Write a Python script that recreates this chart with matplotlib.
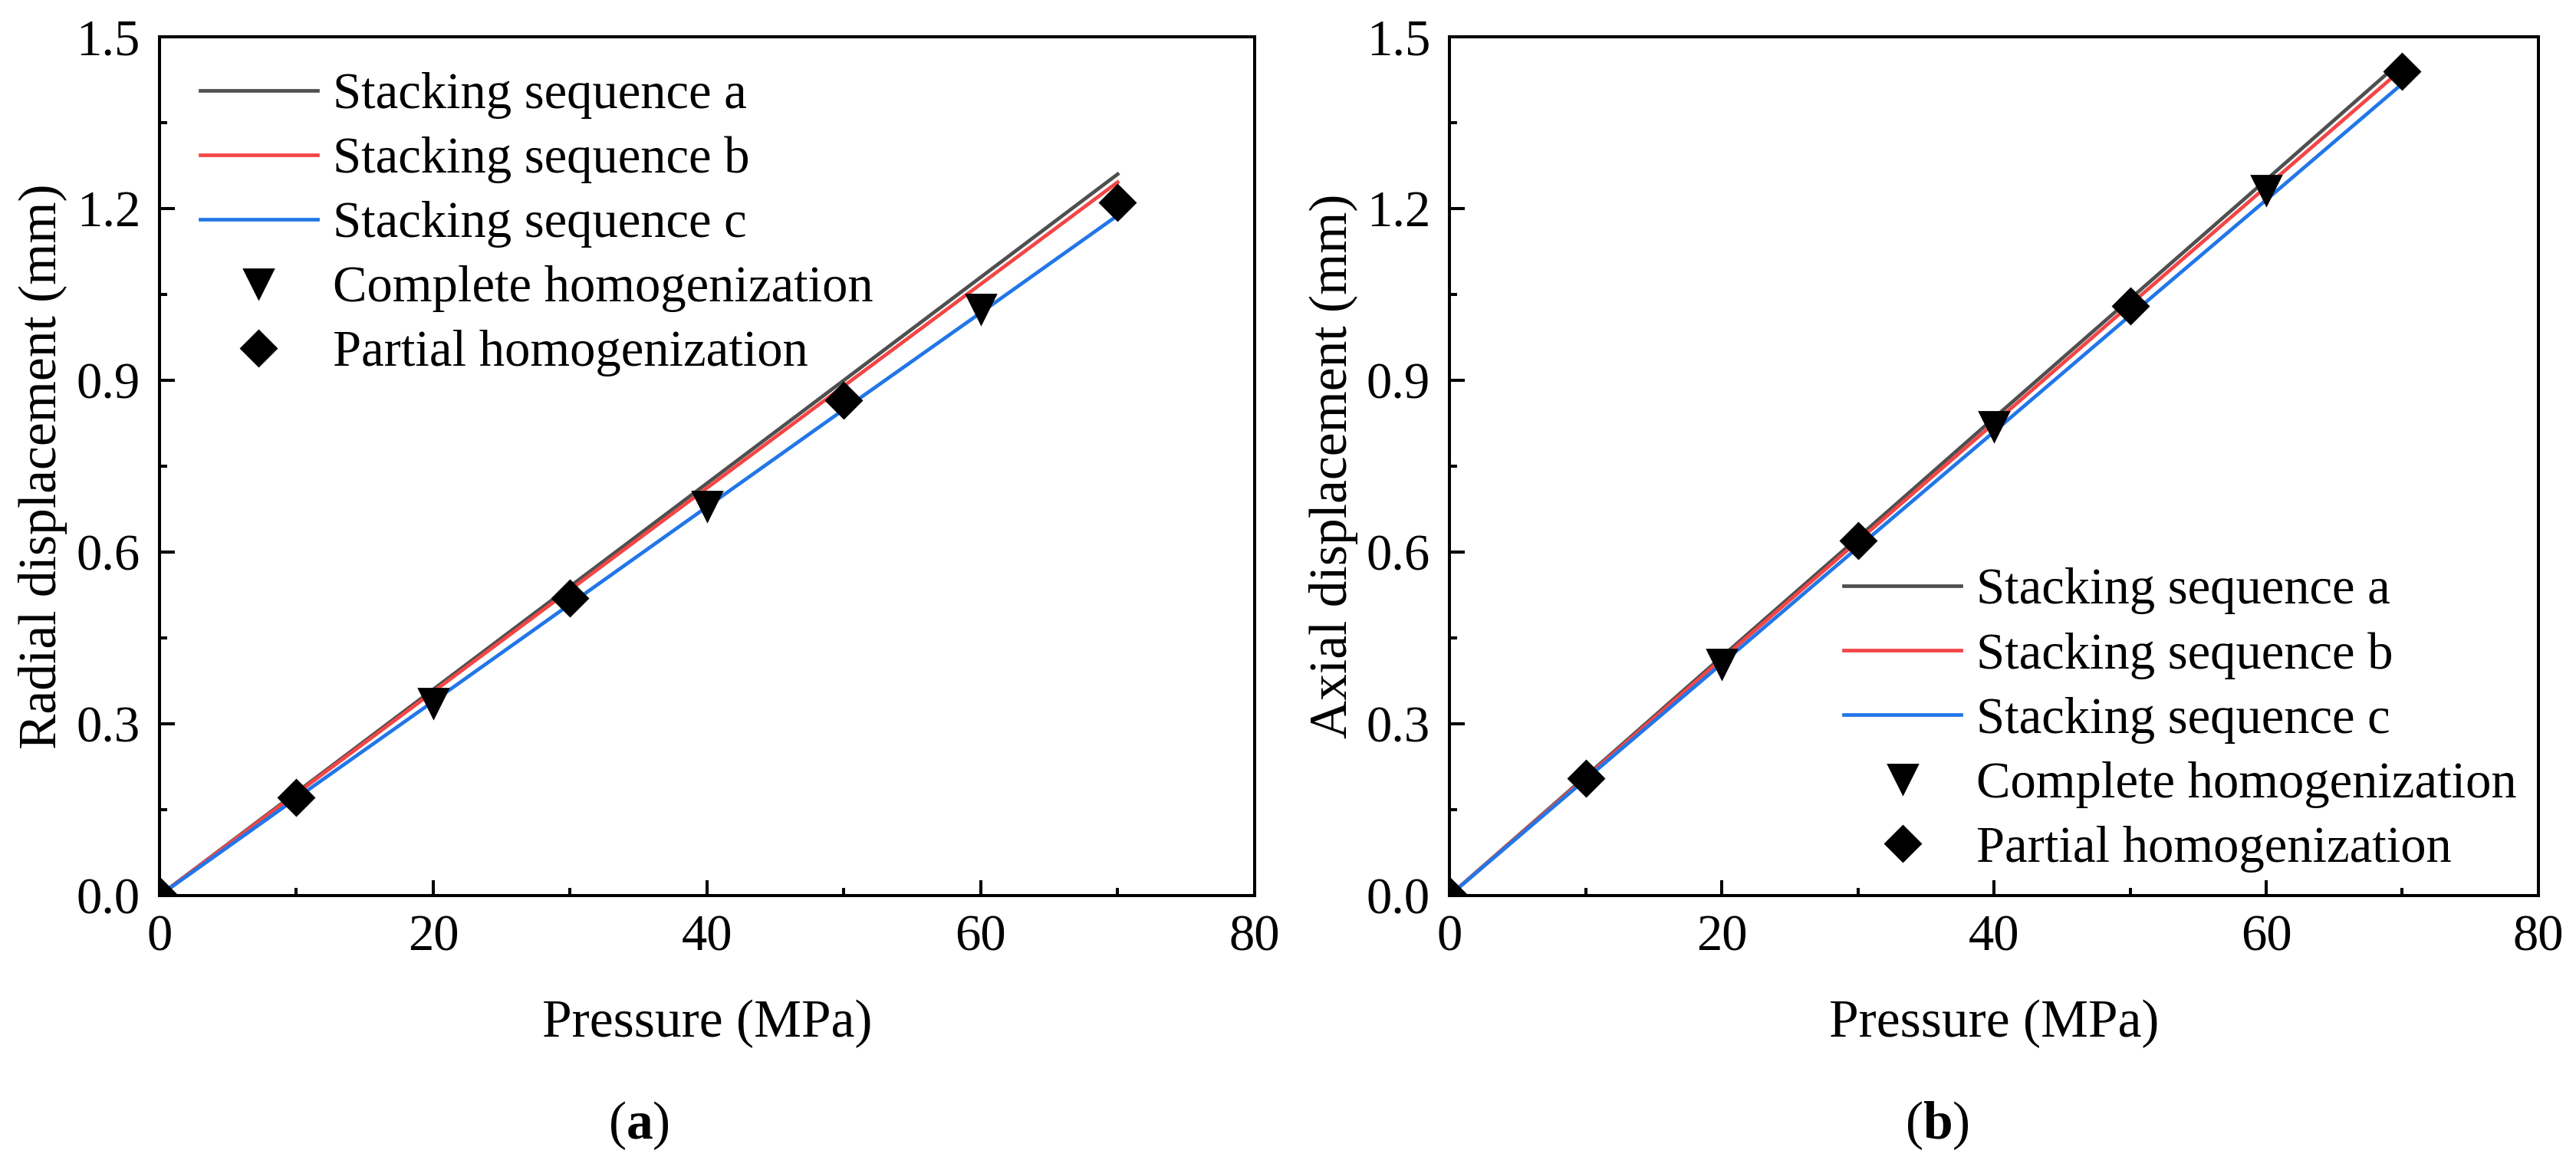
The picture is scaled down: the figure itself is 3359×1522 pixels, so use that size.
import matplotlib
matplotlib.use("Agg")
import matplotlib.pyplot as plt
from matplotlib.ticker import MultipleLocator

plt.rcParams['font.family'] = ['Liberation Serif', 'DejaVu Serif']
plt.rcParams['mathtext.fontset'] = 'custom'
plt.rcParams['mathtext.rm'] = 'Liberation Serif'
plt.rcParams['mathtext.bf'] = 'Liberation Serif:bold'

# pressure for the FE curves (MPa)
pressure = [0, 10, 20, 30, 40, 50, 60, 70]

# (a) radial displacement, mm
radial_a = [0, 0.180, 0.360, 0.540, 0.720, 0.900, 1.080, 1.260]
radial_b = [0, 0.178, 0.356, 0.534, 0.712, 0.890, 1.068, 1.246]
radial_c = [0, 0.170, 0.339, 0.509, 0.679, 0.849, 1.018, 1.188]

# (b) axial displacement, mm
axial_a = [0, 0.208, 0.417, 0.625, 0.834, 1.042, 1.250, 1.459]
axial_b = [0, 0.206, 0.413, 0.619, 0.825, 1.032, 1.238, 1.444]
axial_c = [0, 0.203, 0.405, 0.608, 0.810, 1.013, 1.215, 1.418]

# homogenization models
p_complete = [20, 40, 60]
p_partial = [0, 10, 30, 50, 70]
radial_complete = [0.336, 0.680, 1.025]
radial_partial = [0, 0.172, 0.520, 0.865, 1.210]
axial_complete = [0.405, 0.820, 1.232]
axial_partial = [0, 0.205, 0.620, 1.030, 1.440]

labels = ["Stacking sequence a", "Stacking sequence b", "Stacking sequence c",
          "Complete homogenization", "Partial homogenization"]
colors = ['#4f4f4f', '#f44545', '#2276e8']

fig = plt.figure(figsize=(16.795, 7.61), dpi=200)
ax1 = fig.add_axes([0.0619, 0.2326, 0.4251, 0.7359])
ax2 = fig.add_axes([0.5627, 0.2326, 0.4227, 0.7359])


def draw_panel(ax, ya, yb, yc, y_comp, y_part, ylabel):
    for y, c, lab in zip([ya, yb, yc], colors, labels[:3]):
        ax.plot(pressure, y, color=c, lw=1.7, label=lab)
    ax.plot(p_complete, y_comp, ls='none', marker='v', ms=13.5, color='black',
            label=labels[3])
    ax.plot(p_partial, y_part, ls='none', marker='D', ms=11.5, color='black',
            label=labels[4])
    ax.set_xlim(0, 80)
    ax.set_ylim(0, 1.5)
    ax.xaxis.set_major_locator(MultipleLocator(20))
    ax.xaxis.set_minor_locator(MultipleLocator(10))
    ax.yaxis.set_major_locator(MultipleLocator(0.3))
    ax.yaxis.set_minor_locator(MultipleLocator(0.15))
    ax.yaxis.set_major_formatter(matplotlib.ticker.FormatStrFormatter('%.1f'))
    ax.tick_params(which='both', direction='in', top=False, right=False,
                   labelsize=24, width=1.45)
    ax.tick_params(which='major', length=7.2, pad=9)
    ax.tick_params(which='minor', length=3.6)
    for s in ax.spines.values():
        s.set_linewidth(1.45)
    ax.set_xlabel("Pressure (MPa)", fontsize=25, labelpad=18)
    ax.set_ylabel(ylabel, fontsize=25, labelpad=4)


draw_panel(ax1, radial_a, radial_b, radial_c, radial_complete, radial_partial,
           "Radial displacement (mm)")
draw_panel(ax2, axial_a, axial_b, axial_c, axial_complete, axial_partial,
           "Axial displacement (mm)")

leg_kw = dict(fontsize=24, frameon=False, handlelength=2.3, handletextpad=0.3,
              labelspacing=0.345, borderpad=0, borderaxespad=0, loc='upper left')
ax1.legend(bbox_to_anchor=(0.037, 0.959), **leg_kw)
ax2.legend(bbox_to_anchor=(0.362, 0.382), **leg_kw)

fig.text(0.248, 0.0355, r'($\mathbf{a}$)', fontsize=25, ha='center', va='center')
fig.text(0.752, 0.0355, r'($\mathbf{b}$)', fontsize=25, ha='center', va='center')

fig.savefig("out.png", dpi=200)
